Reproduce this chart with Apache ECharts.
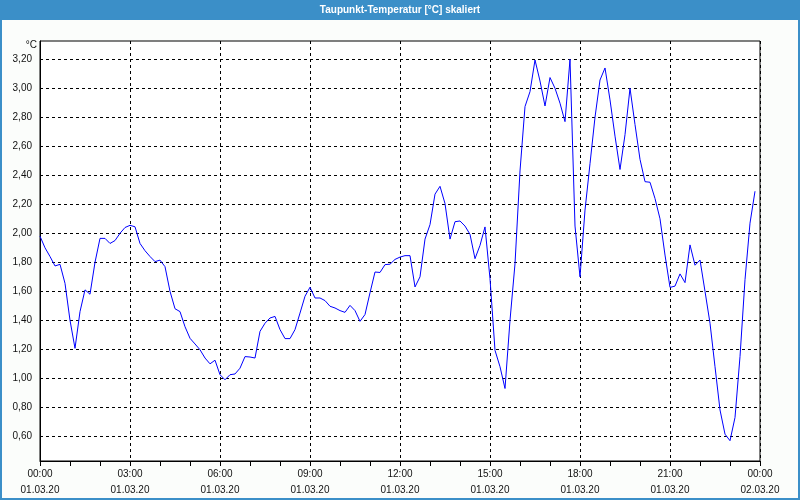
<!DOCTYPE html>
<html>
<head>
<meta charset="utf-8">
<script src="https://cdn.jsdelivr.net/npm/echarts@6/dist/echarts.min.js"></script>
<style>html,body{margin:0;padding:0;background:#fbfdfb;}#c{width:800px;height:500px;}</style>
</head>
<body>
<div id="c"></div>
<script>
// ---- data ----
const titleText = 'Taupunkt-Temperatur [°C] skaliert';
const unitLabel = '°C';
const sampleStepMinutes = 10; // one reading every 10 minutes starting 01.03.20 00:00
const dewPoint = [
  1.98, 1.90, 1.84, 1.775, 1.786, 1.655, 1.40, 1.207, 1.46, 1.61, 1.58, 1.80,
  1.965, 1.965, 1.93, 1.95, 2.00, 2.04, 2.055, 2.045, 1.93, 1.88, 1.84, 1.805,
  1.815, 1.77, 1.60, 1.48, 1.46, 1.356, 1.276, 1.237, 1.197, 1.14, 1.10, 1.125,
  1.025, 0.99, 1.025, 1.03, 1.07, 1.15, 1.147, 1.14, 1.324, 1.38, 1.416, 1.427,
  1.336, 1.274, 1.274, 1.336, 1.45, 1.566, 1.628, 1.554, 1.554, 1.536, 1.497, 1.485,
  1.467, 1.455, 1.503, 1.467, 1.393, 1.44, 1.59, 1.733, 1.73, 1.784, 1.787, 1.82,
  1.836, 1.846, 1.846, 1.63, 1.70, 1.96, 2.06, 2.27, 2.324, 2.205, 1.96, 2.08,
  2.085, 2.05, 1.993, 1.825, 1.917, 2.044, 1.687, 1.193, 1.08, 0.93, 1.40, 1.79,
  2.43, 2.874, 2.977, 3.195, 3.05, 2.878, 3.074, 3.0, 2.897, 2.77, 3.20, 2.05,
  1.70, 2.16, 2.48, 2.80, 3.057, 3.14, 2.92, 2.67, 2.44, 2.68, 3.0, 2.75,
  2.51, 2.356, 2.352, 2.24, 2.10, 1.85, 1.627, 1.636, 1.72, 1.66, 1.92, 1.78,
  1.816, 1.60, 1.38, 1.08, 0.782, 0.615, 0.57, 0.73, 1.15, 1.68, 2.07, 2.29
];
const xTickTimes = ['00:00', '03:00', '06:00', '09:00', '12:00', '15:00', '18:00', '21:00', '00:00'];
const xTickDates = ['01.03.20', '01.03.20', '01.03.20', '01.03.20', '01.03.20', '01.03.20', '01.03.20', '01.03.20', '02.03.20'];
const yTicks = [0.6, 0.8, 1.0, 1.2, 1.4, 1.6, 1.8, 2.0, 2.2, 2.4, 2.6, 2.8, 3.0, 3.2];
const yRange = [0.43, 3.326];
const xRangeMinutes = [0, 1440];
const xTickStepMinutes = 180;

// ---- chart ----
const chart = echarts.init(document.getElementById('c'), null, { renderer: 'canvas' });
const FONT = "'Liberation Sans', Arial, sans-serif";
const blue = '#3b8fc8';
const seriesData = dewPoint.map((v, i) => [i * sampleStepMinutes, v]);

chart.setOption({
  backgroundColor: '#fbfdfb',
  animation: false,
  grid: {
    left: 40, right: 40, top: 41, bottom: 39,
    show: true, backgroundColor: '#ffffff', borderColor: '#000', borderWidth: 1
  },
  xAxis: {
    type: 'value',
    min: xRangeMinutes[0], max: xRangeMinutes[1], interval: xTickStepMinutes,
    axisLine: { show: true, onZero: false, lineStyle: { color: '#000', width: 1 } },
    axisTick: { show: true, length: 5, lineStyle: { color: '#000' } },
    minorTick: { show: true, splitNumber: 3, length: 5, lineStyle: { color: '#000' } },
    splitLine: { show: true, lineStyle: { color: '#000', type: [3, 3], width: 1 } },
    axisLabel: {
      margin: 5,
      color: '#111',
      fontFamily: FONT, fontSize: 10, lineHeight: 16,
      formatter: (val) => {
        const k = Math.round(val / xTickStepMinutes);
        return xTickTimes[k] + '\n' + xTickDates[k];
      }
    }
  },
  yAxis: {
    type: 'value',
    min: yRange[0], max: yRange[1],
    axisLine: { show: true, lineStyle: { color: '#000', width: 1 } },
    axisTick: { show: false, customValues: yTicks },
    splitLine: { show: true, lineStyle: { color: '#000', type: [3, 3], width: 1 } },
    axisLabel: {
      customValues: yTicks,
      margin: 8,
      color: '#111',
      fontFamily: FONT, fontSize: 10,
      formatter: (v) => v.toFixed(2).replace('.', ',')
    }
  },
  series: [{
    type: 'line',
    data: seriesData,
    showSymbol: false,
    symbol: 'none',
    smooth: false,
    lineStyle: { color: '#0000ff', width: 1 },
    z: 5
  }],
  graphic: [
    { type: 'rect', shape: { x: 0, y: 0, width: 800, height: 20 }, style: { fill: blue }, z: 10 },
    { type: 'rect', shape: { x: 1, y: 1, width: 798, height: 498 }, style: { fill: null, stroke: blue, lineWidth: 2 }, z: 10 },
    { type: 'text', x: 400, y: 10, style: { text: titleText, fill: '#fff', font: 'bold 10px ' + FONT, align: 'center', verticalAlign: 'middle' }, z: 11 },
    { type: 'text', x: 37, y: 45, style: { text: unitLabel, fill: '#111', font: '10px ' + FONT, align: 'right', verticalAlign: 'middle' }, z: 11 }
  ]
});
</script>
</body>
</html>
